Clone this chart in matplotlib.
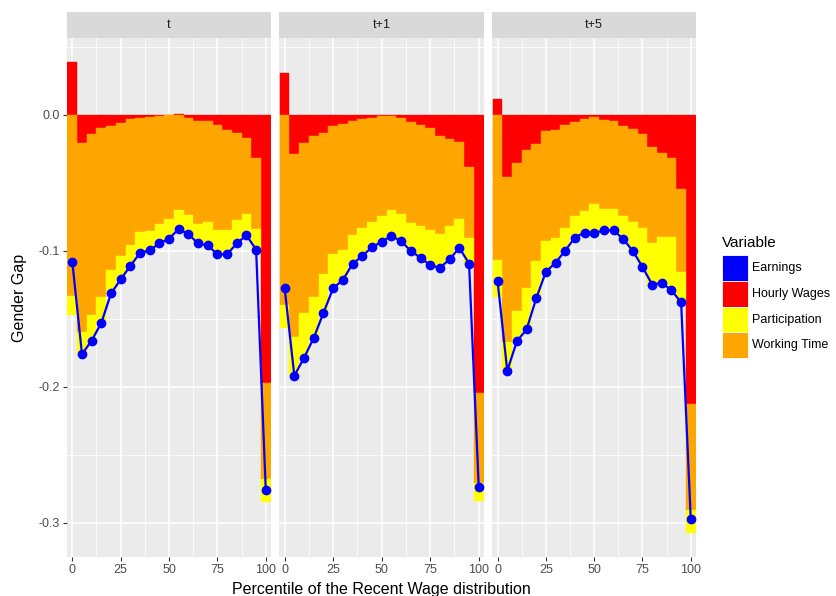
import matplotlib
matplotlib.use('Agg')
import matplotlib.pyplot as plt
from matplotlib.patches import Rectangle
import numpy as np

plt.rcParams['font.family'] = ['Liberation Sans', 'DejaVu Sans']
plt.rcParams['axes.unicode_minus'] = False

percentiles = list(range(0, 101, 5))
panel_names = ['t', 't+1', 't+5']
series_names = ['Earnings', 'Hourly Wages', 'Participation', 'Working Time']

# ---- panel t ----
hourly_t = [0.039, -0.0206, -0.0142, -0.0098, -0.0078, -0.0059, -0.0032, -0.0024, -0.0017, -0.0010,
            -0.0002, 0.001, -0.0022, -0.0041, -0.0046, -0.0076, -0.0113, -0.0132, -0.0169, -0.032, -0.197]
working_t = [-0.133, -0.1394, -0.1328, -0.1242, -0.1062, -0.0981, -0.0926, -0.0836, -0.0836, -0.079,
             -0.076, -0.070, -0.0715, -0.0759, -0.0744, -0.0772, -0.0735, -0.0642, -0.0561, -0.0518, -0.071]
particip_t = [-0.014, -0.016, -0.019, -0.019, -0.0173, -0.017, -0.0152, -0.0155, -0.0142, -0.0145,
              -0.0147, -0.014, -0.014, -0.0145, -0.017, -0.0177, -0.0177, -0.0171, -0.0155, -0.0152, -0.017]
earnings_t = [-0.108, -0.176, -0.166, -0.153, -0.1313, -0.121, -0.111, -0.1015, -0.0995, -0.0945,
              -0.0909, -0.0840, -0.0877, -0.0945, -0.096, -0.1025, -0.1025, -0.0945, -0.0885, -0.0990, -0.276]

# ---- panel t+1 ----
hourly_t1 = [0.0309, -0.0289, -0.0203, -0.0157, -0.0130, -0.0078, -0.0064, -0.0042, -0.0032, -0.0020,
             -0.001, -0.0008, -0.002, -0.0051, -0.0071, -0.0093, -0.0157, -0.0174, -0.0201, -0.0385, -0.2044]
working_t1 = [-0.140, -0.1341, -0.1257, -0.1183, -0.104, -0.0942, -0.0926, -0.0843, -0.0796, -0.0767,
              -0.0733, -0.0693, -0.071, -0.0743, -0.0743, -0.0755, -0.072, -0.064, -0.0561, -0.0517, -0.0662]
particip_t1 = [-0.017, -0.0289, -0.0327, -0.030, -0.0286, -0.0255, -0.0223, -0.0211, -0.0209, -0.0186,
               -0.0189, -0.0189, -0.0199, -0.0206, -0.0237, -0.0257, -0.0248, -0.0247, -0.0216, -0.0191, -0.0134]
earnings_t1 = [-0.1272, -0.1919, -0.1787, -0.164, -0.1456, -0.1275, -0.1213, -0.1096, -0.1037, -0.0973,
               -0.0932, -0.0890, -0.0929, -0.100, -0.1051, -0.1105, -0.1125, -0.1061, -0.0978, -0.1093, -0.274]

# ---- panel t+5 ----
hourly_t5 = [0.0119, -0.0456, -0.0351, -0.026, -0.0213, -0.012, -0.0107, -0.0076, -0.0049, -0.0029,
             -0.0012, -0.0039, -0.0044, -0.0083, -0.0100, -0.0137, -0.0235, -0.0277, -0.0316, -0.0546, -0.213]
working_t5 = [-0.107, -0.1213, -0.1092, -0.101, -0.086, -0.0806, -0.0795, -0.0752, -0.0694, -0.0679,
              -0.064, -0.065, -0.0649, -0.066, -0.0688, -0.0692, -0.0706, -0.062, -0.0581, -0.0608, -0.078]
particip_t5 = [-0.027, -0.0213, -0.0221, -0.0308, -0.0276, -0.0227, -0.0185, -0.017, -0.0159, -0.0157,
               -0.0218, -0.0159, -0.0155, -0.017, -0.0212, -0.0289, -0.0307, -0.0338, -0.0393, -0.0225, -0.0168]
earnings_t5 = [-0.1225, -0.1882, -0.1664, -0.1578, -0.1349, -0.1153, -0.1087, -0.0998, -0.0902, -0.0865,
               -0.087, -0.0848, -0.0848, -0.0913, -0.1, -0.1118, -0.1248, -0.1235, -0.129, -0.1379, -0.2975]

panels = [
    (hourly_t, working_t, particip_t, earnings_t),
    (hourly_t1, working_t1, particip_t1, earnings_t1),
    (hourly_t5, working_t5, particip_t5, earnings_t5),
]

colors = {'Earnings': '#0000FF', 'Hourly Wages': '#FF0000',
          'Participation': '#FFFF00', 'Working Time': '#FFA500'}

W, H = 836, 596
fig = plt.figure(figsize=(W / 100, H / 100), dpi=100)

panel_x = [(66.7, 271.0), (279.0, 484.0), (492.0, 696.0)]
p_top, p_bot = 38.3, 556.7
strip_top = 12.0

def fx(px):
    return px / W

def fy(py):
    return 1 - py / H

for k, (name, (hw, wt, pa, ea)) in enumerate(zip(panel_names, panels)):
    x0, x1 = panel_x[k]
    ax = fig.add_axes([fx(x0), fy(p_bot), fx(x1 - x0), (p_bot - p_top) / H])
    ax.set_facecolor('#EBEBEB')
    for s in ax.spines.values():
        s.set_visible(False)
    x = np.array(percentiles)
    hw = np.array(hw); wt = np.array(wt); pa = np.array(pa)
    base = np.minimum(hw, 0)
    ax.bar(x, hw, width=5, color=colors['Hourly Wages'], edgecolor=colors['Hourly Wages'], linewidth=0.3, zorder=2)
    ax.bar(x, wt, bottom=base, width=5, color=colors['Working Time'], edgecolor=colors['Working Time'], linewidth=0.3, zorder=2)
    ax.bar(x, pa, bottom=base + wt, width=5, color=colors['Participation'], edgecolor=colors['Participation'], linewidth=0.3, zorder=2)
    ax.plot(x, ea, color=colors['Earnings'], lw=1.6, marker='o', ms=6, zorder=3)

    ax.set_xlim(-2.9, 102.7)
    ax.set_ylim(-0.325, 0.0564)
    ax.set_xticks([0, 25, 50, 75, 100])
    ax.set_xticks([12.5, 37.5, 62.5, 87.5], minor=True)
    ax.set_yticks([-0.3, -0.2, -0.1, 0.0])
    ax.set_yticks([-0.25, -0.15, -0.05, 0.05], minor=True)
    ax.grid(which='major', color='white', linewidth=1.1, zorder=0)
    ax.grid(which='minor', color='white', linewidth=0.55, zorder=0)
    ax.set_axisbelow(True)
    ax.tick_params(which='minor', length=0)
    ax.tick_params(which='major', colors='#333333', labelcolor='#4D4D4D', labelsize=9,
                   length=3, width=0.8, pad=2)
    ax.set_xticklabels(['0', '25', '50', '75', '100'])
    if k == 0:
        ax.set_yticklabels(['-0.3', '-0.2', '-0.1', '0.0'])
    else:
        ax.tick_params(axis='y', left=False, labelleft=False)

    sax = fig.add_axes([fx(x0), fy(p_top), fx(x1 - x0), (p_top - strip_top) / H])
    sax.set_facecolor('#D9D9D9')
    for s in sax.spines.values():
        s.set_visible(False)
    sax.set_xticks([]); sax.set_yticks([])
    sax.text(0.5, 0.5, name, ha='center', va='center', fontsize=9, color='#1A1A1A',
             transform=sax.transAxes)

fig.text(fx(20), fy((p_top + p_bot) / 2), 'Gender Gap', rotation=90, ha='center', va='center', fontsize=11.5)
fig.text(fx((66.7 + 696) / 2), fy(589.5), 'Percentile of the Recent Wage distribution',
         ha='center', va='center', fontsize=11.5)

# legend
fig.text(fx(722), fy(243), 'Variable', ha='left', va='center', fontsize=11)
key_top = 255.0
key_h = 25.8
for i, nm in enumerate(series_names):
    yt = key_top + i * key_h
    fig.patches.append(Rectangle((fx(722.3), fy(yt + key_h)), fx(25.4), key_h / H,
                                 transform=fig.transFigure, facecolor=colors[nm],
                                 edgecolor='white', linewidth=0.6))
    fig.text(fx(752), fy(yt + key_h / 2), nm, ha='left', va='center', fontsize=9, color='black')

fig.savefig('out.png', dpi=100)
